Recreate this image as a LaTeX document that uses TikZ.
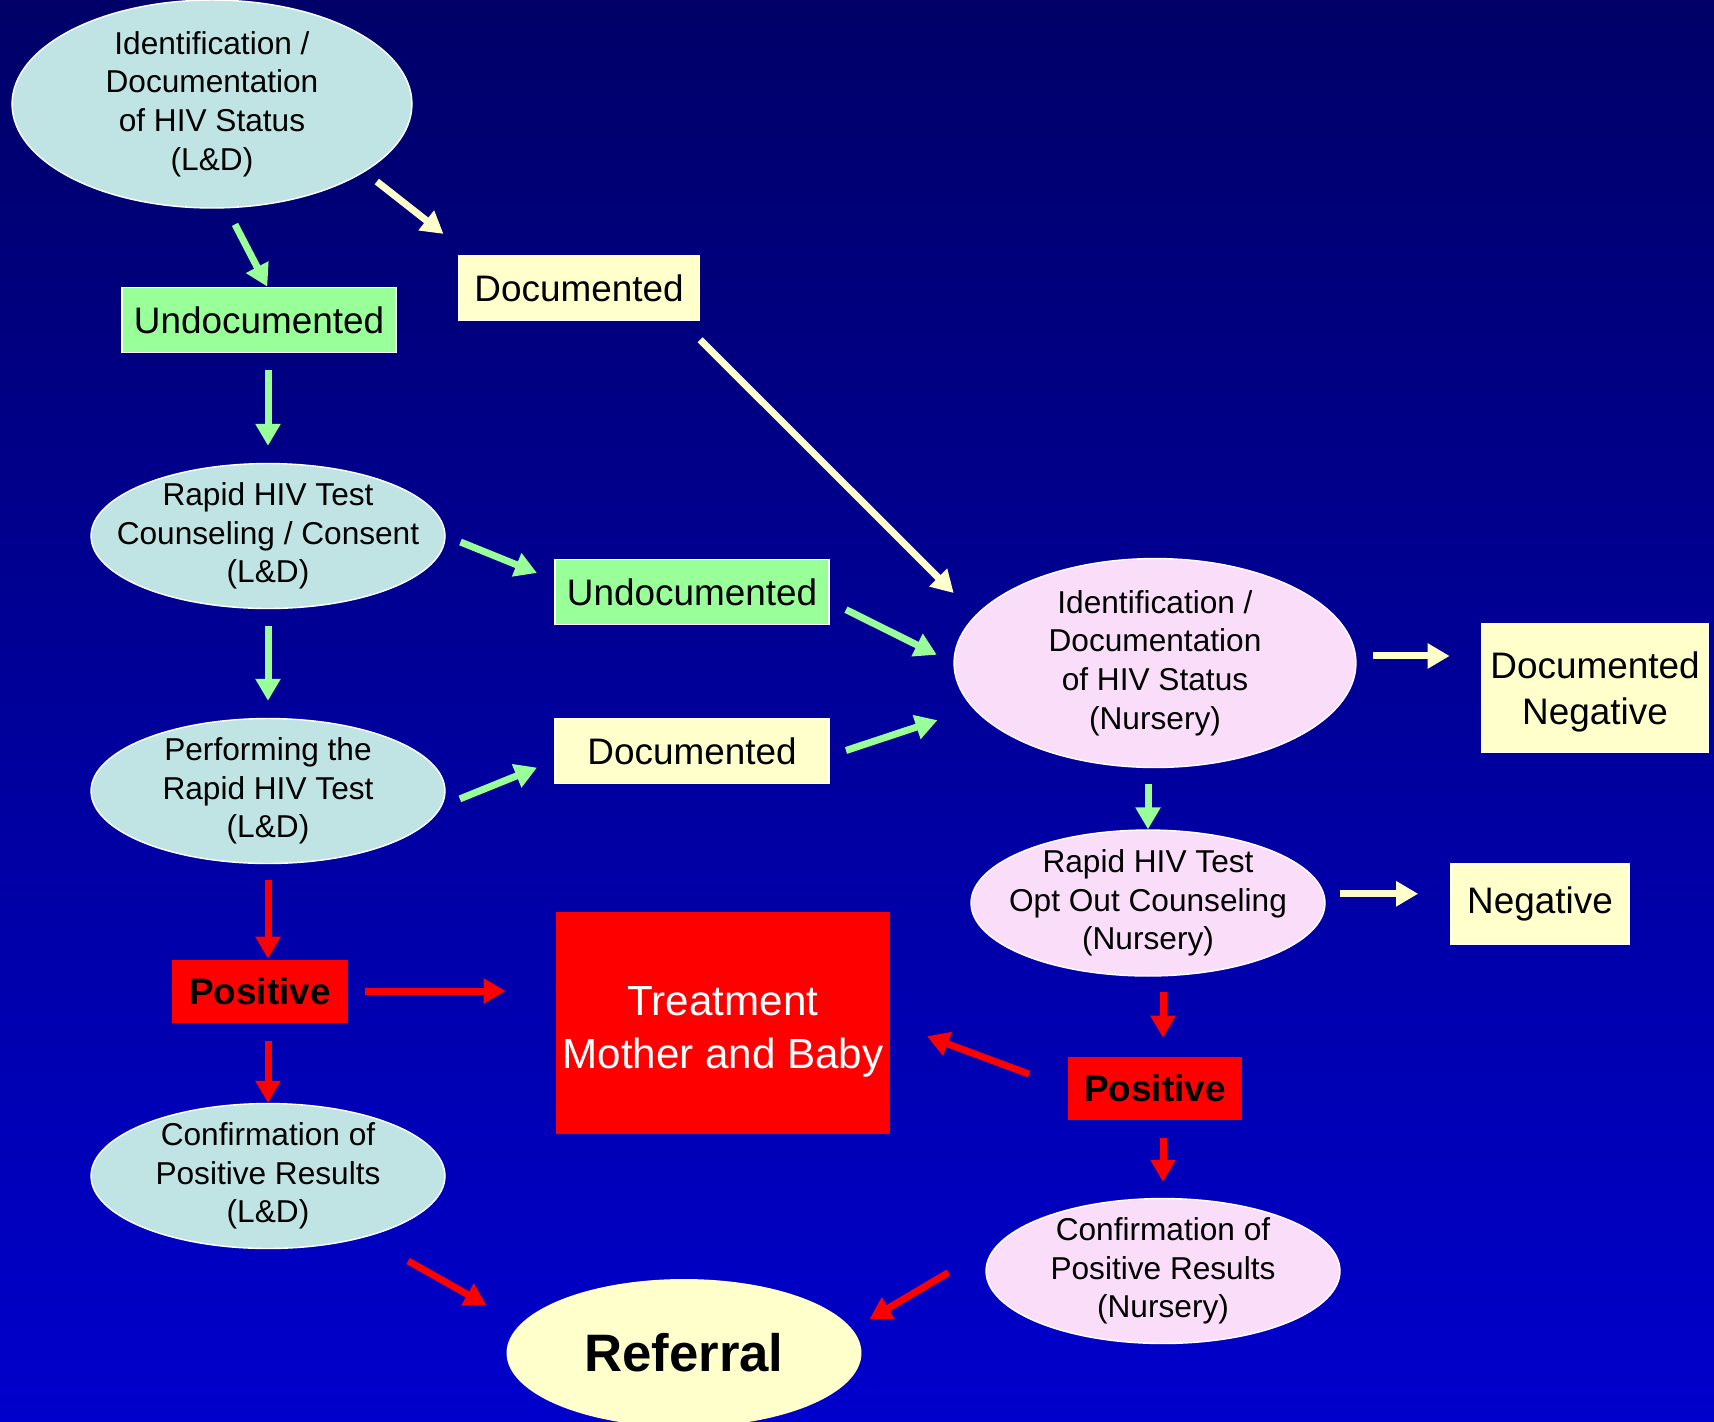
\documentclass[tikz,border=0pt]{standalone}
\usepackage{fontspec}
\setmainfont{Liberation Sans}
\usepackage{xcolor}
\usetikzlibrary{arrows.meta, shapes}
\definecolor{bgtop}{HTML}{000068}
\definecolor{bgbot}{HTML}{0000CC}
\definecolor{ldcyan}{HTML}{C0E4E4}
\definecolor{nurpink}{HTML}{F9DDF9}
\definecolor{cream}{HTML}{FFFFCC}
\definecolor{mint}{HTML}{99FF99}

\begin{document}
\begin{tikzpicture}[x=0.02cm, y=-0.02cm,
    ld/.style={ellipse, fill=ldcyan, draw=white, line width=0.8pt, inner xsep=-0.6cm, inner ysep=-0.1cm, align=center, font=\fontsize{18}{22}\selectfont, execute at begin node={\rule{0pt}{18pt}}},
    nur/.style={ld, fill=nurpink},
    tag/.style={rectangle, draw=white, line width=1pt, inner sep=0pt, align=center, font=\fontsize{21}{26}\selectfont},
    redtag/.style={tag, draw=none, fill=red},
    tip/.style={-{Triangle[width=0.48cm, length=0.44cm]}, line width=0.14cm},
    garr/.style={tip, draw=mint},
    carr/.style={tip, draw=cream},
    rarr/.style={tip, draw=red}]
    % background
    \clip (0,0) rectangle (1714,1421);
    \shade[top color=bgtop, bottom color=bgbot] (0,0) rectangle (1714,1421);

    % labour and delivery column
    \node[ld, minimum width=8cm, minimum height=4.16cm] (id1) at (212,104) {Identification /\\Documentation\\of HIV Status\\(L\&D)};
    \node[tag, fill=mint, minimum width=5.48cm, minimum height=1.3cm] (und1) at (259,320) {Undocumented};
    \node[tag, fill=cream, minimum width=4.82cm, minimum height=1.3cm] (doc1) at (579,288) {Documented};
    \node[ld, minimum width=7.08cm, minimum height=2.9cm] (rap1) at (268,536) {Rapid HIV Test\\Counseling / Consent\\(L\&D)};
    \node[ld, minimum width=7.08cm, minimum height=2.9cm] (perf) at (268,791) {Performing the\\Rapid HIV Test\\(L\&D)};
    \node[tag, fill=mint, minimum width=5.48cm, minimum height=1.3cm] (und2) at (692,592) {Undocumented};
    \node[tag, fill=cream, minimum width=5.48cm, minimum height=1.3cm] (doc2) at (692,751) {Documented};
    \node[redtag, minimum width=3.52cm, minimum height=1.26cm, font=\fontsize{21}{26}\selectfont\bfseries] (pos1) at (260,991) {Positive};
    \node[ld, minimum width=7.08cm, minimum height=2.9cm] (conf1) at (268,1176) {Confirmation of\\Positive Results\\(L\&D)};

    % nursery column
    \node[nur, minimum width=8.04cm, minimum height=4.18cm] (nid) at (1155,663) {Identification /\\Documentation\\of HIV Status\\(Nursery)};
    \node[tag, fill=cream, minimum width=4.54cm, minimum height=2.58cm] (dneg) at (1595,688) {\rule{0pt}{20pt}Documented\\Negative};
    \node[nur, minimum width=7.08cm, minimum height=2.92cm] (rap2) at (1148,903) {Rapid HIV Test\\Opt Out Counseling\\(Nursery)};
    \node[tag, fill=cream, minimum width=3.56cm, minimum height=1.6cm] (neg) at (1540,904) {Negative};
    \node[redtag, minimum width=3.5cm, minimum height=1.26cm, font=\fontsize{21}{26}\selectfont\bfseries] (pos2) at (1155,1088) {Positive};
    \node[nur, minimum width=7.08cm, minimum height=2.9cm] (conf2) at (1163,1271) {Confirmation of\\Positive Results\\(Nursery)};

    % outcomes
    \node[redtag, text=white, minimum width=6.7cm, minimum height=4.46cm, font=\fontsize{24}{30}\selectfont] (treat) at (723,1023) {\rule{0pt}{26.5pt}Treatment\\Mother and Baby};
    \node[ellipse, fill=cream, minimum width=7.1cm, minimum height=2.96cm, inner sep=0pt, font=\fontsize{30}{36}\selectfont\bfseries] (ref) at (684,1353) {Referral};

    % arrows
    \draw[garr, shorten <=0.36cm] (id1.-82) -- (und1.76);
    \draw[carr, shorten <=0.31cm, shorten >=0.67cm] (id1.-24) -- (doc1.163);
    \draw[garr, shorten <=0.34cm, shorten >=0.34cm] (und1.south -| rap1.north) -- (rap1.north);
    \draw[carr, shorten <=0.52cm, shorten >=0.62cm] (doc1.-18) -- (nid.165);
    \draw[garr, shorten <=0.32cm, shorten >=0.37cm] (rap1.east) -- (und2.175);
    \draw[garr, shorten <=0.34cm, shorten >=0.34cm] (rap1.south) -- (perf.north);
    \draw[garr, shorten <=0.36cm, shorten >=0.37cm] (und2.-4) -- (nid.west);
    \draw[garr, shorten <=0.39cm, shorten >=0.37cm] (perf.-5) -- (doc2.184);
    \draw[garr, shorten <=0.34cm, shorten >=0.75cm] (doc2.-2) -- (nid.194);
    \draw[carr, shorten <=0.34cm, shorten >=0.62cm] (nid.2) -- (nid.2 -| dneg.west);
    \draw[garr, shorten <=0.32cm] (nid.south -| rap2.north) -- (rap2.north);
    \draw[carr, shorten <=0.32cm, shorten >=0.64cm] (rap2.3) -- (rap2.3 -| neg.west);
    \draw[rarr, shorten <=0.32cm] (perf.south) -- (perf.south |- pos1.north);
    \draw[rarr, shorten <=0.32cm, shorten >=0.98cm] (pos1.east) -- (pos1.east -| treat.west);
    \draw[rarr, shorten <=0.36cm] (pos1.south -| conf1.north) -- (conf1.north);
    \draw[rarr, shorten <=0.3cm, shorten >=0.36cm] (rap2.south -| conf2.north) -- (pos2.north -| conf2.north);
    \draw[rarr, shorten <=0.8cm, shorten >=0.76cm] (pos2.west) -- (treat.east);
    \draw[rarr, shorten <=0.36cm, shorten >=0.32cm] (pos2.south -| conf2.north) -- (conf2.north);
    \draw[rarr, shorten <=0.97cm, shorten >=0.77cm] (conf1.-32) -- (ref.170);
    \draw[rarr, shorten <=1.19cm, shorten >=0.39cm] (conf2.170) -- (ref.8);
\end{tikzpicture}
\end{document}
